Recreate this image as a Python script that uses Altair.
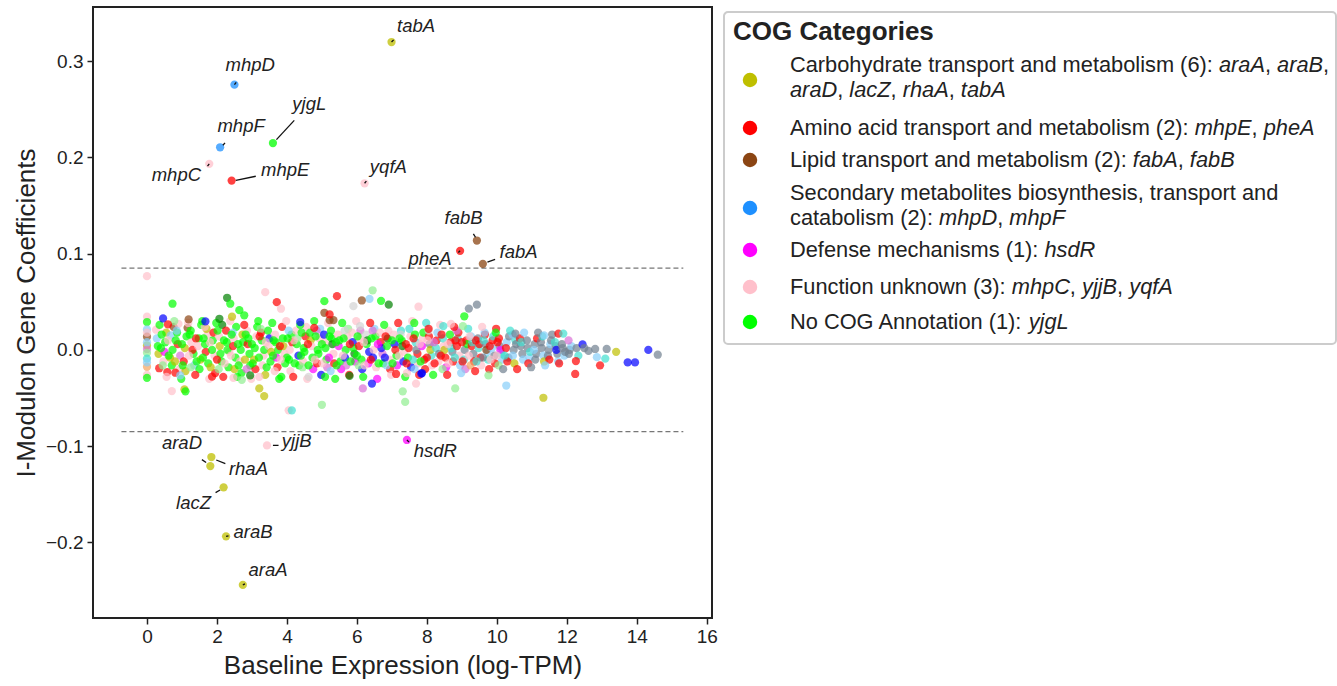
import altair as alt
import pandas as pd

# ---------------- data ----------------
# background genes: (baseline expression, coefficient, COG colour code)
bg_points = [
    (0, 0.0767, "P"), (0, 0.0345, "P"), (0, 0.029, "L"), (0, 0.0213, "S"), (0, 0.0137, "W"),
    (0, 0.0047, "O"), (0, 0.001, "C"), (0, -0.003, "E"), (0, -0.009, "T"), (0, -0.0175, "A"),
    (0, -0.026, "P"), (0, -0.029, "L"), (0, 0.018, "P"), (0, 0.008, "S"), (0, -0.013, "S"),
    (0.28, 0.012, "S"), (0.33, -0.004, "O"), (0.26, 0.021, "P"), (0.35, -0.019, "R"), (0.31, 0.004, "L"),
    (0.52, 0.008, "L"), (0.47, -0.012, "P"), (0.55, 0.018, "O"), (0.5, -0.002, "M"), (0.58, -0.023, "R"),
    (0.68, 0.015, "S"), (0.73, 0.0, "L"), (0.66, -0.008, "O"), (0.76, 0.024, "W"), (0.71, -0.016, "L"),
    (0.88, 0.006, "R"), (0.93, -0.02, "P"), (0.86, 0.018, "L"), (0.95, -0.006, "C"), (0.9, 0.027, "P"),
    (1.08, 0.002, "O"), (1.13, 0.014, "L"), (1.05, -0.012, "R"), (1.16, 0.023, "W"), (1.1, -0.022, "O"),
    (1.27, 0.008, "P"), (1.33, -0.004, "L"), (1.25, 0.02, "L"), (1.35, -0.016, "S"), (1.3, 0.0, "R"),
    (1.48, 0.012, "L"), (1.53, -0.01, "O"), (1.46, 0.004, "P"), (1.55, 0.026, "L"), (1.5, -0.02, "L"),
    (1.68, -0.002, "R"), (1.73, 0.016, "P"), (1.66, 0.006, "L"), (1.75, -0.014, "L"), (1.7, 0.022, "O"),
    (1.88, 0.01, "L"), (1.93, -0.006, "P"), (1.86, 0.0, "L"), (1.95, -0.024, "R"), (1.9, 0.018, "R"),
    (2.08, 0.004, "O"), (2.13, -0.012, "L"), (2.06, 0.014, "P"), (2.15, 0.026, "D"), (2.1, -0.004, "L"),
    (2.28, 0.008, "L"), (2.33, -0.018, "L"), (2.26, 0.02, "R"), (2.35, -0.002, "P"), (2.3, 0.0, "L"),
    (2.48, 0.012, "P"), (2.53, -0.008, "L"), (2.46, 0.004, "R"), (2.55, 0.024, "L"), (2.5, -0.02, "O"),
    (2.68, 0.0, "L"), (2.73, 0.016, "O"), (2.66, -0.012, "P"), (2.75, 0.008, "L"), (2.7, -0.024, "L"),
    (2.88, 0.006, "R"), (2.93, -0.004, "L"), (2.86, 0.02, "P"), (2.95, -0.016, "L"), (2.9, 0.012, "L"),
    (3.08, 0.002, "L"), (3.13, 0.014, "P"), (3.06, -0.01, "O"), (3.15, 0.024, "L"), (3.1, -0.02, "R"),
    (3.28, 0.01, "L"), (3.33, -0.006, "P"), (3.26, 0.018, "R"), (3.35, 0.0, "L"), (3.3, -0.016, "P"),
    (3.48, 0.004, "P"), (3.53, -0.012, "L"), (3.46, 0.02, "L"), (3.55, -0.002, "O"), (3.5, 0.012, "B"),
    (3.68, 0.008, "L"), (3.73, -0.018, "R"), (3.66, 0.016, "P"), (3.75, 0.0, "L"), (3.7, -0.008, "M"),
    (3.88, 0.012, "L"), (3.93, -0.004, "P"), (3.86, 0.024, "R"), (3.95, -0.014, "L"), (3.9, 0.004, "O"),
    (4.08, 0.0, "P"), (4.13, 0.016, "L"), (4.06, -0.01, "L"), (4.15, 0.008, "R"), (4.1, -0.022, "P"),
    (4.28, 0.006, "L"), (4.33, -0.006, "B"), (4.26, 0.02, "P"), (4.35, -0.016, "L"), (4.3, 0.012, "E"),
    (4.48, 0.002, "L"), (4.53, 0.014, "R"), (4.46, -0.012, "P"), (4.55, 0.024, "P"), (4.5, -0.002, "L"),
    (4.68, 0.01, "O"), (4.73, -0.008, "L"), (4.66, 0.018, "L"), (4.75, -0.02, "M"), (4.7, 0.004, "P"),
    (4.88, 0.0, "L"), (4.93, 0.012, "P"), (4.86, -0.014, "R"), (4.95, 0.022, "S"), (4.9, -0.004, "L"),
    (5.08, 0.008, "P"), (5.13, -0.01, "L"), (5.06, 0.016, "B"), (5.15, -0.018, "C"), (5.1, 0.002, "L"),
    (5.28, 0.012, "L"), (5.33, -0.004, "P"), (5.26, 0.02, "L"), (5.35, -0.014, "R"), (5.3, 0.006, "D"),
    (5.48, 0.004, "M"), (5.53, -0.012, "L"), (5.46, 0.016, "P"), (5.55, -0.02, "M"), (5.5, 0.01, "L"),
    (5.68, 0.0, "L"), (5.73, 0.014, "P"), (5.66, -0.008, "B"), (5.75, 0.022, "E"), (5.7, -0.016, "C"),
    (5.88, 0.008, "B"), (5.93, -0.004, "D"), (5.86, 0.018, "P"), (5.95, -0.012, "M"), (5.9, 0.002, "L"),
    (6.08, 0.012, "P"), (6.13, -0.01, "L"), (6.06, 0.004, "R"), (6.15, -0.02, "B"), (6.1, 0.02, "C"),
    (6.28, 0.006, "L"), (6.33, -0.014, "M"), (6.26, 0.016, "K"), (6.35, -0.002, "B"), (6.3, 0.01, "D"),
    (6.48, 0.0, "P"), (6.53, 0.014, "L"), (6.46, -0.008, "B"), (6.55, -0.018, "P"), (6.5, 0.022, "S"),
    (6.68, 0.008, "R"), (6.73, -0.004, "C"), (6.66, 0.018, "P"), (6.75, -0.014, "L"), (6.7, 0.002, "B"),
    (6.88, 0.012, "D"), (6.93, -0.01, "P"), (6.86, 0.004, "L"), (6.95, -0.02, "R"), (6.9, 0.02, "P"),
    (7.08, 0.006, "B"), (7.13, -0.006, "L"), (7.06, 0.016, "P"), (7.15, -0.016, "M"), (7.1, 0.0, "R"),
    (7.28, 0.01, "L"), (7.33, -0.012, "B"), (7.26, 0.02, "T"), (7.35, -0.002, "P"), (7.3, 0.004, "D"),
    (7.48, 0.002, "R"), (7.53, 0.014, "P"), (7.46, -0.008, "L"), (7.55, -0.018, "B"), (7.5, 0.022, "T"),
    (7.68, 0.008, "T"), (7.73, -0.004, "R"), (7.66, 0.016, "L"), (7.75, -0.014, "P"), (7.7, 0.0, "G"),
    (7.88, 0.012, "P"), (7.93, -0.01, "R"), (7.86, 0.004, "M"), (7.95, -0.02, "R"), (7.9, 0.018, "L"),
    (8.08, 0.006, "G"), (8.13, -0.006, "T"), (8.06, 0.014, "R"), (8.15, -0.016, "P"), (8.1, 0.0, "O"),
    (8.28, 0.01, "R"), (8.33, -0.012, "P"), (8.26, 0.002, "T"), (8.35, -0.004, "G"), (8.3, 0.018, "S"),
    (8.48, 0.004, "P"), (8.53, -0.008, "R"), (8.46, 0.012, "T"), (8.55, -0.018, "M"), (8.5, 0.0, "O"),
    (8.68, 0.008, "R"), (8.73, -0.002, "G"), (8.66, 0.016, "L"), (8.75, -0.012, "R"), (8.7, 0.002, "T"),
    (8.88, 0.012, "T"), (8.93, -0.006, "P"), (8.86, 0.004, "R"), (8.95, -0.016, "S"), (8.9, 0.018, "R"),
    (9.08, 0.0, "G"), (9.13, 0.01, "R"), (9.06, -0.01, "T"), (9.15, 0.006, "L"), (9.1, -0.02, "C"),
    (9.28, 0.004, "R"), (9.33, -0.004, "G"), (9.26, 0.014, "S"), (9.35, -0.012, "R"), (9.3, 0.008, "T"),
    (9.48, 0.002, "T"), (9.53, -0.008, "R"), (9.46, 0.012, "G"), (9.55, -0.016, "P"), (9.5, 0.006, "R"),
    (9.68, 0.006, "G"), (9.73, -0.002, "S"), (9.66, 0.016, "R"), (9.75, -0.01, "T"), (9.7, 0.0, "W"),
    (9.88, 0.01, "R"), (9.93, -0.006, "G"), (9.86, 0.002, "S"), (9.95, -0.014, "R"), (9.9, 0.014, "T"),
    (10.08, 0.004, "G"), (10.13, -0.004, "T"), (10.06, 0.012, "R"), (10.15, -0.01, "S"), (10.1, 0.0, "M"),
    (10.28, 0.008, "S"), (10.33, -0.008, "G"), (10.26, 0.002, "R"), (10.35, 0.014, "G"), (10.3, -0.012, "R"),
    (10.48, 0.0, "G"), (10.53, 0.01, "T"), (10.46, -0.006, "S"), (10.55, 0.006, "G"), (10.5, -0.014, "O"),
    (10.68, 0.004, "G"), (10.73, -0.004, "G"), (10.66, 0.012, "R"), (10.75, -0.01, "S"), (10.7, 0.008, "T"),
    (10.88, 0.002, "G"), (10.93, -0.008, "S"), (10.86, 0.01, "G"), (10.95, -0.002, "T"), (10.9, -0.014, "R"),
    (11.08, 0.006, "G"), (11.13, -0.004, "G"), (11.06, 0.0, "S"), (11.15, 0.012, "R"), (11.1, -0.01, "G"),
    (11.28, 0.002, "G"), (11.33, -0.006, "S"), (11.26, 0.008, "G"), (11.35, -0.012, "O"), (11.3, 0.014, "T"),
    (11.48, 0.0, "G"), (11.53, 0.006, "S"), (11.46, -0.006, "G"), (11.55, 0.01, "G"), (11.5, -0.01, "R"),
    (11.68, 0.004, "G"), (11.73, -0.004, "G"), (11.66, 0.008, "T"), (11.75, -0.012, "S"), (11.7, 0.0, "B"),
    (11.88, 0.002, "G"), (11.93, -0.006, "S"), (11.86, 0.006, "G"), (11.95, -0.002, "G"),
    (12.08, 0.0, "G"), (12.13, 0.004, "S"), (12.06, -0.004, "G"),
    (12.28, 0.002, "G"), (12.33, -0.006, "T"),
    (0.4, 0.002, "L"), (0.6, 0.01, "P"), (0.8, -0.012, "O"), (1.0, 0.006, "L"), (1.2, -0.006, "P"),
    (1.4, 0.012, "R"), (1.6, -0.008, "L"), (1.8, 0.008, "P"), (2.0, -0.01, "R"), (2.2, 0.01, "L"),
    (2.4, -0.006, "P"), (2.6, 0.006, "L"), (2.8, -0.01, "O"), (3.0, 0.006, "L"), (3.2, -0.008, "L"),
    (3.4, 0.008, "P"), (3.6, -0.006, "L"), (3.8, 0.004, "R"), (4.0, -0.008, "L"), (4.2, 0.01, "P"),
    (4.4, -0.006, "L"), (4.6, 0.006, "R"), (4.8, -0.01, "P"), (5.0, 0.006, "L"), (5.2, -0.008, "M"),
    (5.4, 0.008, "L"), (5.6, -0.006, "P"), (5.8, 0.006, "R"), (6.0, -0.006, "L"), (6.2, 0.008, "P"),
    (6.4, -0.01, "R"), (6.6, 0.006, "M"), (6.8, -0.008, "B"), (7.0, 0.01, "L"), (7.2, -0.006, "P"),
    (7.4, 0.006, "R"), (7.6, -0.01, "T"), (7.8, 0.006, "P"), (8.0, -0.008, "R"), (8.2, 0.008, "C"),
    (8.4, -0.006, "R"), (8.6, 0.006, "P"), (8.8, -0.008, "T"), (9.0, 0.008, "R"), (9.2, -0.006, "P"),
    (9.4, 0.01, "R"), (9.6, -0.008, "G"), (9.8, 0.004, "R"), (10.0, -0.006, "P"),
    (0.45, -0.016, "E"), (0.85, 0.02, "S"), (1.25, -0.018, "E"), (1.65, 0.024, "P"), (2.05, -0.02, "E"),
    (2.45, 0.018, "S"), (2.85, -0.02, "C"), (3.25, 0.022, "E"), (3.65, -0.022, "P"), (4.05, 0.02, "S"),
    (4.45, -0.018, "E"), (4.85, 0.02, "C"), (5.25, -0.022, "S"), (5.65, 0.02, "K"), (6.05, -0.016, "E"),
    (6.45, 0.02, "C"), (6.85, -0.016, "S"), (7.25, 0.016, "K"), (7.65, -0.02, "S"), (8.05, 0.02, "K"),
    (8.45, -0.02, "E"), (8.85, 0.02, "C"), (9.25, -0.016, "A"), (9.65, 0.018, "S"), (10.05, -0.016, "E"),
    (10.45, 0.016, "S"),
    (0.36, 0.026, "L"), (0.56, -0.028, "P"), (0.78, 0.03, "E"), (0.98, -0.03, "L"), (1.18, 0.028, "P"),
    (1.38, -0.026, "R"), (1.58, 0.03, "L"), (1.78, -0.03, "P"), (1.98, 0.028, "L"), (2.18, -0.028, "R"),
    (2.38, 0.03, "P"), (2.58, -0.028, "L"), (2.78, 0.026, "R"), (2.98, -0.03, "P"), (3.18, 0.03, "L"),
    (3.38, -0.026, "O"), (3.58, 0.028, "L"), (3.78, -0.03, "L"), (3.98, 0.03, "P"), (4.18, -0.028, "R"),
    (4.38, 0.026, "L"), (4.58, -0.03, "P"), (4.78, 0.03, "L"), (4.98, -0.026, "B"), (5.18, 0.028, "P"),
    (5.38, -0.03, "L"), (5.58, 0.028, "L"), (5.78, -0.026, "R"), (5.98, 0.03, "P"), (6.18, -0.028, "L"),
    (6.38, 0.028, "R"), (6.58, -0.03, "M"), (6.78, 0.026, "L"), (6.98, -0.026, "P"), (7.18, 0.028, "R"),
    (7.38, -0.028, "L"), (7.58, 0.03, "P"), (7.78, -0.026, "R"), (7.98, 0.028, "T"), (8.18, -0.026, "L"),
    (8.38, 0.026, "P"), (8.58, -0.026, "R"), (8.78, 0.024, "R"), (8.98, -0.024, "S"), (9.18, 0.022, "T"),
    (9.38, -0.022, "R"), (9.58, 0.024, "P"), (9.78, -0.02, "R"), (9.98, 0.022, "R"), (10.18, -0.02, "G"),
    (10.38, 0.02, "T"), (10.58, -0.02, "R"), (10.78, 0.018, "S"), (10.98, -0.018, "G"), (11.18, 0.018, "G"),
    (11.38, -0.016, "S"), (11.58, 0.016, "G"), (11.78, -0.014, "R"),
    (0.42, 0.016, "L"), (0.62, -0.006, "L"), (0.82, 0.01, "L"), (1.02, -0.016, "L"), (1.22, 0.016, "L"),
    (1.42, -0.012, "L"), (1.62, 0.012, "L"), (1.82, -0.018, "O"), (2.02, 0.02, "L"), (2.22, -0.014, "P"),
    (2.42, 0.016, "L"), (2.62, -0.016, "L"), (2.82, 0.016, "L"), (3.02, -0.014, "L"), (3.22, 0.014, "R"),
    (3.42, -0.018, "L"), (3.62, 0.01, "L"), (3.82, -0.01, "P"), (4.02, 0.012, "L"), (4.22, -0.014, "L"),
    (4.42, 0.018, "L"), (4.62, -0.016, "L"), (4.82, 0.014, "L"), (5.02, -0.014, "P"), (5.22, 0.014, "L"),
    (5.42, -0.016, "L"), (5.62, 0.012, "L"), (5.82, -0.012, "L"), (6.02, 0.014, "L"), (6.22, -0.016, "P"),
    (6.42, 0.012, "L"), (6.62, -0.014, "L"), (6.82, 0.014, "R"), (7.02, -0.014, "L"), (7.22, 0.012, "L"),
    (7.42, -0.014, "R"), (7.62, 0.012, "R"), (7.82, -0.012, "L"), (8.02, 0.01, "P"), (8.22, -0.014, "R"),
    (8.42, 0.016, "R"), (8.62, -0.014, "P"), (8.82, 0.01, "R"), (9.02, -0.012, "R"), (9.22, 0.014, "P"),
    (9.42, -0.012, "T"), (9.62, 0.01, "T"), (9.82, -0.01, "P"), (10.02, 0.008, "R"), (10.22, -0.006, "T"),
    # scattered genes outside the dense band
    (0.73, 0.048, "L"), (0.46, 0.0327, "B"), (0.6, 0.0265, "R"), (1.19, 0.0317, "W"), (1.67, 0.0296, "B"),
    (2.29, 0.0542, "D"), (2.38, 0.048, "L"), (3.38, 0.060, "P"), (3.71, 0.0496, "R"), (3.83, 0.0428, "P"),
    (2.64, 0.0413, "L"), (2.78, 0.036, "L"), (2.43, 0.0345, "O"), (2.07, 0.0324, "D"), (3.21, -0.040, "O"),
    (3.35, -0.048, "O"), (1.07, -0.041, "O"), (1.1, -0.043, "L"), (0.71, -0.0428, "P"), (0.81, -0.0237, "R"),
    (1.86, -0.0278, "R"), (0.95, -0.0265, "S"), (2.47, -0.029, "P"), (2.71, -0.031, "E"), (2.95, -0.0265, "D"),
    (3.21, -0.028, "P"), (3.84, -0.028, "L"), (4.05, -0.0628, "P"), (4.14, -0.0628, "T"),
    (5.43, 0.0559, "R"), (5.07, 0.0507, "L"), (6.45, 0.062, "E"), (6.36, 0.053, "S"), (6.14, 0.0514, "W"),
    (6.69, 0.051, "L"), (6.91, 0.047, "D"), (5.9, 0.0455, "K"), (5.07, 0.0386, "W"), (5.22, 0.031, "W"),
    (5.33, 0.031, "W"), (5.22, 0.0369, "R"), (7.76, 0.0449, "P"), (4.38, 0.029, "B"), (4.78, 0.023, "R"),
    (7.64, 0.028, "L"), (6.09, 0.0247, "K"), (6.17, -0.040, "C"), (6.43, -0.035, "B"), (7.69, -0.035, "P"),
    (7.31, -0.043, "E"), (7.38, -0.054, "E"), (5.0, -0.057, "E"), (4.62, -0.028, "K"), (5.09, -0.028, "L"),
    (5.79, -0.027, "D"), (7.12, -0.025, "R"), (7.86, -0.024, "B"), (7.43, -0.024, "P"),
    (9.43, 0.047, "G"), (9.2, 0.043, "G"), (9.07, 0.035, "L"), (9.03, 0.0247, "E"), (8.69, 0.027, "P"),
    (8.47, 0.0247, "T"), (8.05, 0.022, "R"), (9.97, 0.018, "L"), (11.76, 0.017, "R"), (11.9, 0.017, "T"),
    (11.35, 0.015, "S"), (10.53, 0.017, "G"), (12.05, 0.010, "C"), (12.45, 0.0057, "B"), (13.14, 0.001, "G"),
    (13.41, -0.002, "O"), (14.33, 0.0, "B"), (14.6, -0.005, "G"), (13.74, -0.013, "B"), (13.95, -0.013, "B"),
    (12.86, -0.0075, "S"), (13.1, -0.009, "T"), (12.95, -0.016, "R"), (12.24, -0.025, "R"), (11.33, -0.0497, "O"),
    (10.27, -0.037, "S"), (8.81, -0.040, "E"), (9.76, -0.0265, "E"), (12.26, -0.0116, "R"), (7.84, -0.0247, "B"),
    (12.62, -0.001, "G"), (12.81, 0.001, "G"), (12.5, 0.002, "G"),
]

bg_palette = {
    "L": "#00ff00", "P": "#ffc0cb", "R": "#ff0000", "O": "#bfbf00", "B": "#0000ff",
    "S": "#87cefa", "G": "#708090", "T": "#40e0d0", "M": "#ff00ff", "C": "#da70d6",
    "E": "#90ee90", "D": "#008000", "W": "#8b4513", "K": "#d3d3d3", "A": "#f4a460",
}

# highlighted i-modulon genes
genes = ["tabA", "mhpD", "mhpF", "yjgL", "mhpC", "mhpE", "yqfA", "fabB", "pheA", "fabA",
         "araD", "rhaA", "lacZ", "araB", "araA", "yjjB", "hsdR"]
gene_x = [6.99, 2.50, 2.09, 3.60, 1.78, 2.42, 6.22, 9.43, 8.95, 9.60,
          1.81, 1.84, 2.19, 2.26, 2.74, 3.43, 7.43]
gene_y = [0.320, 0.2757, 0.2106, 0.215, 0.1934, 0.176, 0.1732, 0.1137, 0.103, 0.0895,
          -0.1207, -0.1113, -0.1428, -0.1937, -0.2442, -0.0992, -0.0936]
gene_cog = ["carb", "sec", "sec", "none", "unk", "amino", "unk", "lipid", "amino", "lipid",
            "carb", "carb", "carb", "carb", "carb", "unk", "def"]
label_x = [7.69, 2.95, 2.69, 4.64, 0.84, 3.95, 6.9, 9.05, 8.09, 10.62,
           1.0, 2.9, 1.33, 3.03, 3.46, 4.28, 8.24]
label_y = [0.337, 0.2965, 0.233, 0.256, 0.1815, 0.1867, 0.19, 0.137, 0.095, 0.102,
           -0.0964, -0.124, -0.1587, -0.1888, -0.2287, -0.0947, -0.105]

# leader lines (label side -> point side), incl. the short stubs inside some points
lead_x0 = [4.21, 3.11, 2.17, 9.95, 9.33, 1.57, 2.24, 1.96, 3.60,
           7.05, 2.55, 1.73, 6.27, 2.33, 2.80, 7.49, 8.90]
lead_y0 = [0.2386, 0.1805, 0.2127, 0.094, 0.1207, -0.114, -0.1182, -0.1483, -0.0992,
           0.3222, 0.278, 0.191, 0.1755, -0.1932, -0.2432, -0.0958, 0.1012]
lead_x1 = [3.70, 2.54, 2.23, 9.73, 9.39, 1.69, 1.98, 2.09, 3.76,
           6.99, 2.50, 1.78, 6.22, 2.26, 2.74, 7.43, 8.95]
lead_y1 = [0.2186, 0.1763, 0.2152, 0.0912, 0.1171, -0.117, -0.1144, -0.1456, -0.0992,
           0.320, 0.2757, 0.1934, 0.1732, -0.1937, -0.2442, -0.0936, 0.103]

threshold = 0.085
threshold_span = [-0.73, 15.33]

cog_keys = ["carb", "amino", "lipid", "sec", "def", "unk", "none"]
cog_colors = ["#bfbf00", "#ff0000", "#8b4513", "#1e90ff", "#ff00ff", "#ffc0cb", "#00ff00"]
legend_lines = [
    [[("Carbohydrate transport and metabolism (6): ", 0), ("araA", 1), (", ", 0), ("araB", 1), (",", 0)],
     [("araD", 1), (", ", 0), ("lacZ", 1), (", ", 0), ("rhaA", 1), (", ", 0), ("tabA", 1)]],
    [[("Amino acid transport and metabolism (2): ", 0), ("mhpE", 1), (", ", 0), ("pheA", 1)]],
    [[("Lipid transport and metabolism (2): ", 0), ("fabA", 1), (", ", 0), ("fabB", 1)]],
    [[("Secondary metabolites biosynthesis, transport and", 0)],
     [("catabolism (2): ", 0), ("mhpD", 1), (", ", 0), ("mhpF", 1)]],
    [[("Defense mechanisms (1): ", 0), ("hsdR", 1)]],
    [[("Function unknown (3): ", 0), ("mhpC", 1), (", ", 0), ("yjjB", 1), (", ", 0), ("yqfA", 1)]],
    [[("No COG Annotation (1): ", 0), ("yjgL", 1)]],
]

# ---------------- layout / styles ----------------
FONT = "Liberation Sans"
TXT = "#222222"
W, H = 619, 611
XDOM = [-1.543, 16.15]
YDOM = [-0.2786, 0.3564]
LEG_FS = 21.8

AW = {' ': 278, '(': 333, ')': 333, ',': 278, ':': 278, '-': 333, '.': 278}
for d in "0123456789":
    AW[d] = 556
AW.update({'A': 667, 'B': 667, 'C': 722, 'D': 722, 'E': 667, 'F': 611, 'G': 778, 'H': 722,
           'I': 278, 'L': 556, 'M': 833, 'N': 722, 'O': 778, 'P': 667, 'R': 722, 'S': 667,
           'T': 611, 'Z': 611})
AW.update({'a': 556, 'b': 556, 'c': 500, 'd': 556, 'e': 556, 'f': 278, 'g': 556, 'h': 556,
           'i': 222, 'j': 222, 'k': 500, 'l': 222, 'm': 833, 'n': 556, 'o': 556, 'p': 556,
           'q': 556, 'r': 333, 's': 500, 't': 278, 'u': 556, 'v': 500, 'w': 722, 'x': 500,
           'y': 500, 'z': 500})


def text_w(s, fs):
    return sum(AW.get(ch, 556) for ch in s) * fs / 1000.0


# ---------------- frames ----------------
bg_df = pd.DataFrame({
    "x": [p[0] for p in bg_points],
    "y": [p[1] for p in bg_points],
    "col": [bg_palette[p[2]] for p in bg_points],
})
cmap = dict(zip(cog_keys, cog_colors))
gene_df = pd.DataFrame({"gene": genes, "x": gene_x, "y": gene_y,
                        "col": [cmap[c] for c in gene_cog], "lx": label_x, "ly": label_y})
lead_df = pd.DataFrame({"x0": lead_x0, "y0": lead_y0, "x1": lead_x1, "y1": lead_y1})
thr_df = pd.DataFrame({"y": [threshold, -threshold],
                       "x0": [threshold_span[0]] * 2, "x1": [threshold_span[1]] * 2})

# legend layout in pixels relative to plot origin
leg_left = 631
text_left = 697
circle_x = 657
item_rows = [[58, 83], [121], [153], [186, 211], [243], [280], [315]]
circle_y = [73, 121, 153, 201, 243, 280, 315]
seg_rows = []
for lines, rows in zip(legend_lines, item_rows):
    for segs, ry in zip(lines, rows):
        cx = text_left
        for s, it in segs:
            seg_rows.append({"px": cx, "py": ry, "t": s, "it": it})
            cx += text_w(s, LEG_FS)
seg_df = pd.DataFrame(seg_rows)
circ_df = pd.DataFrame({"px": [circle_x] * 7, "py": circle_y, "col": cog_colors})

xs = alt.Scale(domain=XDOM, nice=False, zero=False)
ys = alt.Scale(domain=YDOM, nice=False, zero=False)

x_axis = alt.Axis(values=list(range(0, 17, 2)), format="d", title="Baseline Expression (log-TPM)",
                  grid=False, domain=False, tickSize=6, tickWidth=1.5, tickColor=TXT,
                  labelFontSize=19, labelColor=TXT, labelFont=FONT, labelPadding=3,
                  titleFontSize=26, titleColor=TXT, titleFont=FONT, titleFontWeight="normal",
                  titlePadding=6)
y_axis = alt.Axis(values=[-0.2, -0.1, 0.0, 0.1, 0.2, 0.3], format=".1f",
                  title="I-Modulon Gene Coefficients",
                  grid=False, domain=False, tickSize=6, tickWidth=1.5, tickColor=TXT,
                  labelFontSize=19, labelColor=TXT, labelFont=FONT, labelPadding=4,
                  titleFontSize=26, titleColor=TXT, titleFont=FONT, titleFontWeight="normal",
                  titlePadding=6)

bg = alt.Chart(bg_df).mark_circle(size=68, opacity=0.7).encode(
    x=alt.X("x:Q", scale=xs, axis=x_axis),
    y=alt.Y("y:Q", scale=ys, axis=y_axis),
    color=alt.Color("col:N", scale=None),
)

thr = alt.Chart(thr_df).mark_rule(color="#777777", strokeWidth=1.2, strokeDash=[5, 3]).encode(
    x=alt.X("x0:Q", scale=xs), x2="x1:Q", y=alt.Y("y:Q", scale=ys))

hl = alt.Chart(gene_df).mark_circle(size=68, opacity=0.75).encode(
    x=alt.X("x:Q", scale=xs), y=alt.Y("y:Q", scale=ys), color=alt.Color("col:N", scale=None))

leads = alt.Chart(lead_df).mark_rule(color="#111111", strokeWidth=1.3).encode(
    x=alt.X("x0:Q", scale=xs), y=alt.Y("y0:Q", scale=ys), x2="x1:Q", y2="y1:Q")

labels = alt.Chart(gene_df).mark_text(font=FONT, fontSize=18.5, fontStyle="italic", color=TXT,
                                      align="center", baseline="middle").encode(
    x=alt.X("lx:Q", scale=xs), y=alt.Y("ly:Q", scale=ys), text="gene:N")

# legend
box = alt.Chart(pd.DataFrame({"a": [0]})).mark_rect(
    fill="white", stroke="#cccccc", strokeWidth=2, cornerRadius=4).encode(
    x=alt.value(leg_left), x2=alt.value(1243), y=alt.value(5), y2=alt.value(337))
title = alt.Chart(pd.DataFrame({"t": ["COG Categories"]})).mark_text(
    font=FONT, fontSize=26, fontWeight="bold", color=TXT, align="left", baseline="middle").encode(
    x=alt.value(640), y=alt.value(25), text="t:N")
circ = alt.Chart(circ_df).mark_circle(size=210, opacity=1).encode(
    x=alt.X("px:Q", scale=None, axis=None), y=alt.Y("py:Q", scale=None, axis=None),
    color=alt.Color("col:N", scale=None))
seg_n = alt.Chart(seg_df[seg_df.it == 0]).mark_text(
    font=FONT, fontSize=LEG_FS, color=TXT, align="left", baseline="middle").encode(
    x=alt.X("px:Q", scale=None, axis=None), y=alt.Y("py:Q", scale=None, axis=None), text="t:N")
seg_i = alt.Chart(seg_df[seg_df.it == 1]).mark_text(
    font=FONT, fontSize=LEG_FS, fontStyle="italic", color=TXT, align="left", baseline="middle").encode(
    x=alt.X("px:Q", scale=None, axis=None), y=alt.Y("py:Q", scale=None, axis=None), text="t:N")

chart = alt.layer(bg, thr, hl, leads, labels, box, title, circ, seg_n, seg_i).properties(
    width=W, height=H,
    background="white",
    autosize=alt.AutoSizeParams(type="none"),
    padding={"left": 93, "top": 7, "right": 625, "bottom": 68},
).configure_view(stroke=TXT, strokeWidth=2)

chart.save("out.html", embed_options={"renderer": "svg", "actions": False})
